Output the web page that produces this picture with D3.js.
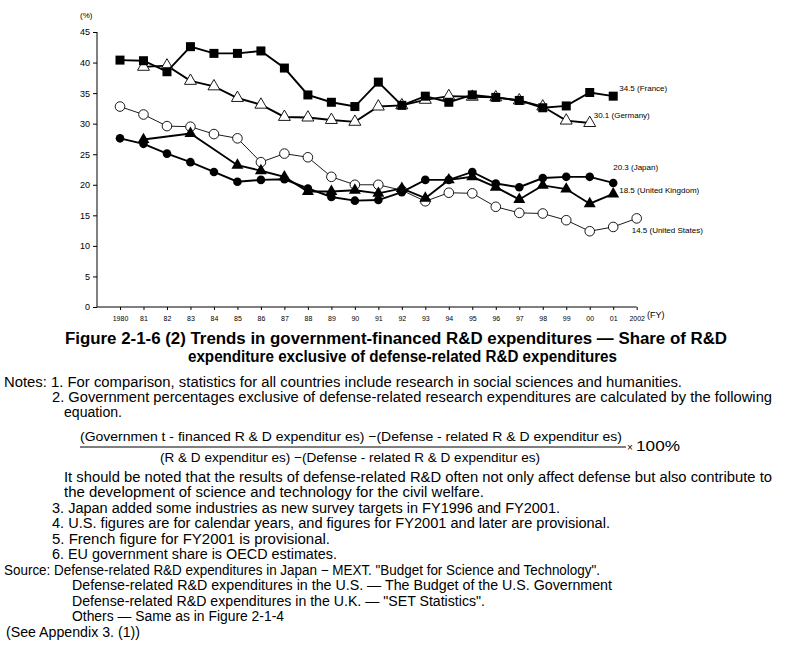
<!DOCTYPE html>
<html><head><meta charset="utf-8">
<script src="https://cdn.jsdelivr.net/npm/d3@7"></script>
<style>
body{margin:0;background:#fff;}
svg text{font-family:"Liberation Sans",Arial,sans-serif;fill:#000;}
</style></head>
<body>
<script>
const years = d3.range(1980, 2003);
const yearLabels = ["1980","81","82","83","84","85","86","87","88","89","90","91","92","93","94","95","96","97","98","99","00","01","2002"];
const yTicks = [0,5,10,15,20,25,30,35,40,45];
const france  = [40.4,40.3,38.5,42.6,41.5,41.5,41.9,39.1,34.7,33.5,32.8,36.8,33.0,34.5,33.5,34.7,34.3,33.8,32.6,32.9,35.1,34.5,null];
const germany = [null,39.3,39.5,37.0,36.1,34.2,33.1,31.1,31.0,30.6,30.3,32.8,33.0,33.9,34.5,34.4,34.3,33.8,32.8,30.5,30.1,null,null];
const japan   = [27.6,26.7,25.1,23.7,22.1,20.5,20.8,20.9,19.4,18.0,17.4,17.5,18.8,20.8,20.8,22.1,20.2,19.6,21.1,21.3,21.3,20.3,null];
const uk      = [null,27.4,null,28.4,null,23.2,22.3,21.3,18.9,18.9,19.1,18.6,19.4,17.8,20.8,21.3,19.6,17.6,19.9,19.3,16.9,18.5,null];
const us      = [32.8,31.5,29.6,29.5,28.3,27.6,23.7,25.1,24.5,21.3,20.0,20.0,19.1,17.3,18.7,18.6,16.4,15.4,15.3,14.2,12.4,13.1,14.5];
const seriesNames = ["34.5 (France)","30.1 (Germany)","20.3 (Japan)","18.5 (United Kingdom)","14.5 (United States)"];

const svg = d3.select("body").append("svg").attr("width",800).attr("height",649);

const x = d3.scalePoint().domain(years).range([120, 636.7]);
const y = d3.scaleLinear().domain([0,45]).range([307, 32]);

// Y axis
const yAxis = svg.append("g").attr("transform","translate(97,0)")
  .call(d3.axisLeft(y).tickValues(yTicks).tickSize(4).tickPadding(3));
yAxis.select(".domain").attr("stroke","#000").attr("d","M0,32V307");
yAxis.selectAll("text").style("font-size","9px").style("font-family","Liberation Sans, Arial");
svg.append("text").attr("x",80).attr("y",18).style("font-size","8px").text("(%)");

// X axis
const xAxis = svg.append("g").attr("transform","translate(0,307)")
  .call(d3.axisBottom(x).tickFormat((d,i)=>yearLabels[i]).tickSize(3).tickPadding(6));
xAxis.select(".domain").attr("stroke","#000").attr("d","M97,0H636.7");
xAxis.selectAll("text").style("font-size","7px").style("font-family","Liberation Sans, Arial");
svg.append("text").attr("x",647).attr("y",318).style("font-size","9px").text("(FY)");

function pts(arr){ return years.map((yr,i)=>({yr, v:arr[i]})).filter(d=>d.v!=null); }
const line = d3.line().x(d=>x(d.yr)).y(d=>y(d.v));

function drawLine(arr, w){
  svg.append("path").datum(pts(arr)).attr("d",line)
    .attr("fill","none").attr("stroke","#000").attr("stroke-width",w);
}
const tri = d3.symbol().type(d3.symbolTriangle).size(62);

// US
drawLine(us, 0.9);
svg.append("g").selectAll("circle").data(pts(us)).join("circle")
  .attr("cx",d=>x(d.yr)).attr("cy",d=>y(d.v)).attr("r",4.8)
  .attr("fill","#fff").attr("stroke","#000").attr("stroke-width",0.9);
// Germany
drawLine(germany, 1.9);
svg.append("g").selectAll("path").data(pts(germany)).join("path")
  .attr("d",tri).attr("transform",d=>`translate(${x(d.yr)},${y(d.v)})`)
  .attr("fill","#fff").attr("stroke","#000").attr("stroke-width",0.9);
// France
drawLine(france, 1.9);
svg.append("g").selectAll("rect").data(pts(france)).join("rect")
  .attr("x",d=>x(d.yr)-4.5).attr("y",d=>y(d.v)-4.5).attr("width",9).attr("height",9)
  .attr("fill","#000");
// UK
drawLine(uk, 1.9);
svg.append("g").selectAll("path").data(pts(uk)).join("path")
  .attr("d",tri).attr("transform",d=>`translate(${x(d.yr)},${y(d.v)})`)
  .attr("fill","#000");
// Japan
drawLine(japan, 1.9);
svg.append("g").selectAll("circle").data(pts(japan)).join("circle")
  .attr("cx",d=>x(d.yr)).attr("cy",d=>y(d.v)).attr("r",4.3)
  .attr("fill","#000");

// series labels
const lbl = [
  {t:seriesNames[0], yr:2001, v:34.5, dx:6, dy:-5},
  {t:seriesNames[1], yr:2000, v:30.1, dx:4, dy:-5},
  {t:seriesNames[2], yr:2001, v:20.3, dx:0, dy:-13},
  {t:seriesNames[3], yr:2001, v:18.5, dx:6, dy:-1},
  {t:seriesNames[4], yr:2002, v:14.5, dx:-5, dy:15}
];
svg.append("g").selectAll("text").data(lbl).join("text")
  .attr("x",d=>x(d.yr)+d.dx).attr("y",d=>y(d.v)+d.dy)
  .style("font-size","8px").text(d=>d.t);

// Title
const title = svg.append("g").style("font-weight","bold").style("font-size","16px");
title.append("text").attr("x",65).attr("y",344).attr("textLength",662).attr("lengthAdjust","spacingAndGlyphs")
  .text("Figure 2-1-6 (2)  Trends in government-financed R&D expenditures \u2015 Share of R&D");
title.append("text").attr("x",188).attr("y",362).attr("textLength",429).attr("lengthAdjust","spacingAndGlyphs")
  .text("expenditure exclusive of defense-related R&D expenditures");

// Notes
const notes = [
  {x:4,  y:387, w:678, t:"Notes: 1. For comparison, statistics for all countries include research in social sciences and humanities."},
  {x:52, y:402, w:720, t:"2. Government percentages exclusive of defense-related research expenditures are calculated by the following"},
  {x:64, y:417, w:58,  t:"equation."},
  {x:64, y:482, w:708, t:"It should be noted that the results of defense-related R&D often not only affect defense but also contribute to"},
  {x:64, y:497, w:420, t:"the development of science and technology for the civil welfare."},
  {x:52, y:513, w:508, t:"3. Japan added some industries as new survey targets in FY1996 and FY2001."},
  {x:52, y:528, w:558, t:"4. U.S. figures are for calendar years, and figures for FY2001 and later are provisional."},
  {x:52, y:544, w:278, t:"5. French figure for FY2001 is provisional."},
  {x:52, y:559, w:285, t:"6. EU government share is OECD estimates."},
  {x:4,  y:575, w:596, t:"Source: Defense-related R&D expenditures in Japan \u2212 MEXT. \"Budget for Science and Technology\"."},
  {x:72, y:590, w:540, t:"Defense-related R&D expenditures in the U.S. \u2015 The Budget of the U.S. Government"},
  {x:72, y:606, w:413, t:"Defense-related R&D expenditures in the U.K. \u2015 \"SET Statistics\"."},
  {x:72, y:621, w:212, t:"Others \u2015 Same as in Figure 2-1-4"},
  {x:6,  y:637, w:134, t:"(See Appendix 3. (1))"}
];
svg.append("g").selectAll("text").data(notes).join("text")
  .attr("x",d=>d.x).attr("y",d=>d.y).attr("textLength",d=>d.w).attr("lengthAdjust","spacingAndGlyphs")
  .style("font-size","14px").text(d=>d.t);

// Equation
const eq = svg.append("g").style("font-size","13px");
eq.append("text").attr("x",80).attr("y",441).attr("textLength",542).attr("lengthAdjust","spacingAndGlyphs")
  .text("(Governmen t - financed  R & D  expenditur es) \u2212(Defense - related  R & D  expenditur es)");
eq.append("line").attr("x1",80).attr("x2",626).attr("y1",447).attr("y2",447).attr("stroke","#000").attr("stroke-width",1);
eq.append("text").attr("x",627).attr("y",451).style("font-size","10px").text("\u00d7");
eq.append("text").attr("x",636).attr("y",451).attr("textLength",44).attr("lengthAdjust","spacingAndGlyphs").style("font-size","14px").text("100%");
eq.append("text").attr("x",160).attr("y",462).attr("textLength",380).attr("lengthAdjust","spacingAndGlyphs")
  .text("(R & D  expenditur es) \u2212(Defense - related  R & D  expenditur es)");
</script>
</body></html>
